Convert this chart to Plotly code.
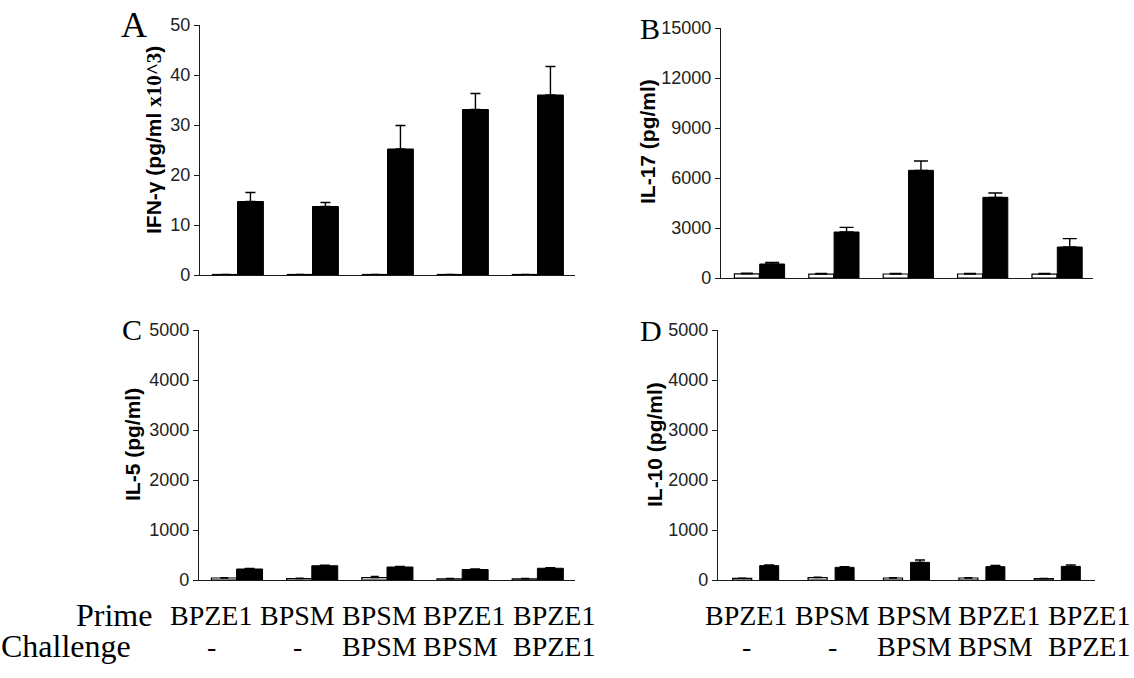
import plotly.graph_objects as go

W, H = 1134, 678

# ---------------- data ----------------
groups = ["G1", "G2", "G3", "G4", "G5"]
prime_labels = ["BPZE1", "BPSM", "BPSM", "BPZE1", "BPZE1"]
challenge_labels = ["-", "-", "BPSM", "BPSM", "BPZE1"]

ifng_white = [0.1, 0.1, 0.1, 0.1, 0.1]
ifng_white_err = [0.0, 0.0, 0.0, 0.0, 0.0]
ifng_black = [14.7, 13.7, 25.2, 33.1, 36.0]
ifng_black_err = [1.8, 0.8, 4.7, 3.2, 5.7]

il17_white = [250, 230, 240, 240, 230]
il17_white_err = [40, 40, 40, 30, 40]
il17_black = [840, 2760, 6460, 4840, 1860]
il17_black_err = [100, 280, 560, 260, 500]

il5_white = [40, 30, 47, 25, 25]
il5_white_err = [8, 5, 25, 5, 5]
il5_black = [220, 285, 260, 210, 235]
il5_black_err = [12, 12, 12, 12, 12]

il10_white = [33, 47, 40, 40, 27]
il10_white_err = [5, 8, 5, 5, 5]
il10_black = [287, 253, 353, 267, 273]
il10_black_err = [12, 12, 47, 26, 30]

x_idx = list(range(len(groups)))

# ---------------- layout helpers ----------------
def px_x(p):
    return p / W

def px_y(p):
    return 1 - p / H

panels = [
    dict(x="x", y="y", xd=(200, 575), yd=(25, 275), ymax=50, dtick=10,
         w=ifng_white, we=ifng_white_err, b=ifng_black, be=ifng_black_err,
         wo=-0.335, bo=0.0, bw=0.345, cap=5),
    dict(x="x2", y="y2", xd=(721, 1093), yd=(28, 278), ymax=15000, dtick=3000,
         w=il17_white, we=il17_white_err, b=il17_black, be=il17_black_err,
         wo=-0.32, bo=0.02, bw=0.335, cap=7),
    dict(x="x3", y="y3", xd=(199, 575), yd=(330, 580), ymax=5000, dtick=1000,
         w=il5_white, we=il5_white_err, b=il5_black, be=il5_black_err,
         wo=-0.335, bo=0.0, bw=0.345, cap=5),
    dict(x="x4", y="y4", xd=(718, 1095), yd=(330, 580), ymax=5000, dtick=1000,
         w=il10_white, we=il10_white_err, b=il10_black, be=il10_black_err,
         wo=-0.305, bo=0.053, bw=0.252, cap=5),
]

fig = go.Figure()

axis_color = "#1a1a1a"
tick_font = dict(family="Liberation Sans", size=18, color="#222")

layout_axes = {}
for i, p in enumerate(panels):
    fig.add_trace(go.Bar(
        x=x_idx, y=p["w"], xaxis=p["x"], yaxis=p["y"],
        offset=p["wo"], width=p["bw"],
        marker=dict(color="white", line=dict(color="black", width=1.2)),
        error_y=dict(type="data", array=p["we"], arrayminus=[0] * 5, symmetric=False,
                     color="black", thickness=1.3, width=p["cap"] - 1),
        showlegend=False, hoverinfo="skip",
    ))
    fig.add_trace(go.Bar(
        x=x_idx, y=p["b"], xaxis=p["x"], yaxis=p["y"],
        offset=p["bo"], width=p["bw"],
        marker=dict(color="black", line=dict(color="black", width=1)),
        error_y=dict(type="data", array=p["be"], arrayminus=[0] * 5, symmetric=False,
                     color="black", thickness=1.4, width=p["cap"]),
        showlegend=False, hoverinfo="skip",
    ))
    xname = "xaxis" if i == 0 else f"xaxis{i+1}"
    yname = "yaxis" if i == 0 else f"yaxis{i+1}"
    layout_axes[xname] = dict(
        domain=[px_x(p["xd"][0]), px_x(p["xd"][1])],
        range=[-0.5, 4.5], showticklabels=False, ticks="",
        showline=True, linecolor=axis_color, linewidth=1.3,
        showgrid=False, zeroline=False, anchor=p["y"],
        fixedrange=True, automargin=False,
    )
    layout_axes[yname] = dict(
        domain=[px_y(p["yd"][1]), px_y(p["yd"][0])],
        range=[0, p["ymax"]], dtick=p["dtick"], tick0=0, tickformat="d",
        ticks="outside", ticklen=5, tickwidth=1.2, tickcolor=axis_color,
        showline=True, linecolor=axis_color, linewidth=1.3,
        showgrid=False, zeroline=False, anchor=p["x"],
        tickfont=tick_font, fixedrange=True, automargin=False,
    )

annotations = []

# y-axis titles
title_font = dict(family="Liberation Sans", size=21, color="black")
titles = [
    ("<b>IFN-γ (pg/ml <span style='font-family:Liberation Serif'>x10^3</span>)</b>", 154, 140),
    ("<b>IL-17 (pg/ml)</b>", 648, 142),
    ("<b>IL-5 (pg/ml)</b>", 132, 445),
    ("<b>IL-10 (pg/ml)</b>", 654, 445),
]
for txt, cx, cy in titles:
    annotations.append(dict(
        text=txt, x=px_x(cx), y=px_y(cy), xref="paper", yref="paper",
        xanchor="center", yanchor="middle", textangle=-90, showarrow=False,
        font=title_font,
    ))

# panel letters
serif = "Liberation Serif"
letters = [("A", 134, 25, 36), ("B", 650, 28, 30), ("C", 132, 329, 30), ("D", 651, 330, 30)]
for t, cx, cy, sz in letters:
    annotations.append(dict(
        text=t, x=px_x(cx), y=px_y(cy), xref="paper", yref="paper",
        xanchor="center", yanchor="middle", showarrow=False,
        font=dict(family=serif, size=sz, color="black"),
    ))

# bottom label rows
row_font = dict(family=serif, size=28, color="black")
head_font = dict(family=serif, size=32, color="black")
prime_y, chal_y = 615, 646
annotations.append(dict(text="Prime", x=px_x(154), y=px_y(prime_y), xref="paper", yref="paper",
                        xanchor="right", yanchor="middle", showarrow=False, font=head_font))
annotations.append(dict(text="Challenge", x=px_x(133), y=px_y(chal_y), xref="paper", yref="paper",
                        xanchor="right", yanchor="middle", showarrow=False, font=head_font))

prime_centers = [211, 297, 379, 464, 554]
chal_centers = [211, 297, 379, 460, 554]
for offset in (0, 535):
    for lab, c in zip(prime_labels, prime_centers):
        annotations.append(dict(text=lab, x=px_x(c + offset), y=px_y(prime_y), xref="paper", yref="paper",
                                xanchor="center", yanchor="middle", showarrow=False, font=row_font))
    for lab, c in zip(challenge_labels, chal_centers):
        annotations.append(dict(text=lab, x=px_x(c + offset), y=px_y(chal_y), xref="paper", yref="paper",
                                xanchor="center", yanchor="middle", showarrow=False, font=row_font))

fig.update_layout(
    width=W, height=H, margin=dict(l=0, r=0, t=0, b=0, autoexpand=False),
    paper_bgcolor="white", plot_bgcolor="white",
    barmode="overlay", showlegend=False,
    annotations=annotations,
    **layout_axes,
)

fig.write_html(
    "out.html",
    config={"displayModeBar": False},
    post_script="document.body.style.margin='0';document.body.style.overflow='hidden';",
)
